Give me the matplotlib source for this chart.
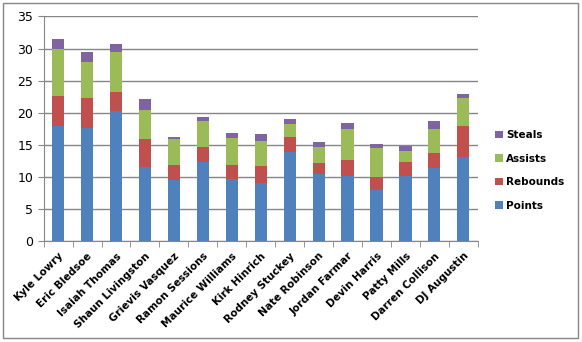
import numpy as np
import matplotlib.pyplot as plt
from matplotlib.patches import Rectangle

players = ['Kyle Lowry', 'Eric Bledsoe', 'Isaiah Thomas', 'Shaun Livingston',
           'Grievis Vasquez', 'Ramon Sessions', 'Maurice Williams', 'Kirk Hinrich',
           'Rodney Stuckey', 'Nate Robinson', 'Jordan Farmar', 'Devin Harris',
           'Patty Mills', 'Darren Collison', 'DJ Augustin']
points = [18.0, 17.6, 20.2, 11.5, 9.5, 12.3, 9.6, 9.0, 13.9, 10.4, 10.1, 8.0, 10.1, 11.4, 13.1]
rebounds = [4.6, 4.7, 3.0, 4.4, 2.3, 2.3, 2.2, 2.7, 2.3, 1.7, 2.5, 2.0, 2.2, 2.3, 4.8]
assists = [7.3, 5.6, 6.2, 4.5, 4.1, 4.1, 4.2, 3.9, 2.0, 2.5, 4.8, 4.5, 1.7, 3.7, 4.4]
steals = [1.6, 1.5, 1.3, 1.7, 0.35, 0.6, 0.8, 1.1, 0.8, 0.8, 1.0, 0.6, 0.8, 1.3, 0.6]

series = [('Points', points, '#4F81BD'),
          ('Rebounds', rebounds, '#C0504D'),
          ('Assists', assists, '#9BBB59'),
          ('Steals', steals, '#8064A2')]

fig = plt.figure(figsize=(5.82, 3.42), dpi=100)
ax = fig.add_axes([0.075, 0.295, 0.746, 0.657])

x = np.arange(len(players))
bottom = np.zeros(len(players))
handles = []
for name, vals, col in series:
    b = ax.bar(x, vals, 0.42, bottom=bottom, color=col, label=name, zorder=3)
    handles.append(b)
    bottom += np.array(vals)

gray = '#868686'
ax.set_xlim(-0.5, len(players) - 0.5)
ax.set_ylim(0, 35)
ax.set_yticks(range(0, 36, 5))
ax.yaxis.grid(True, color=gray, linewidth=1, zorder=0)
for s in ['top', 'right']:
    ax.spines[s].set_visible(False)
for s in ['left', 'bottom']:
    ax.spines[s].set_color(gray)
ax.tick_params(axis='y', colors=gray, length=4, labelcolor='black', labelsize=9)

ax.set_xticks(x)
ax.set_xticklabels(players, rotation=45, ha='right', rotation_mode='anchor',
                   fontsize=7.5, fontweight='bold')
ax.tick_params(axis='x', which='major', length=0, pad=7)
ax.set_xticks(np.arange(-0.5, len(players)), minor=True)
ax.tick_params(axis='x', which='minor', length=4, color=gray)

leg = fig.legend(handles[::-1], [s[0] for s in series][::-1], loc='upper left',
                 bbox_to_anchor=(0.843, 0.632), frameon=False, handlelength=0.75,
                 handleheight=0.75, handletextpad=0.35, labelspacing=1.3,
                 borderaxespad=0, prop={'weight': 'bold', 'size': 7.5})

fig.add_artist(Rectangle((2.5 / 582, 4.5 / 342), 575.5 / 582, 335 / 342,
                         transform=fig.transFigure, fill=False,
                         edgecolor=gray, linewidth=1))

fig.savefig('out.png', dpi=100)
